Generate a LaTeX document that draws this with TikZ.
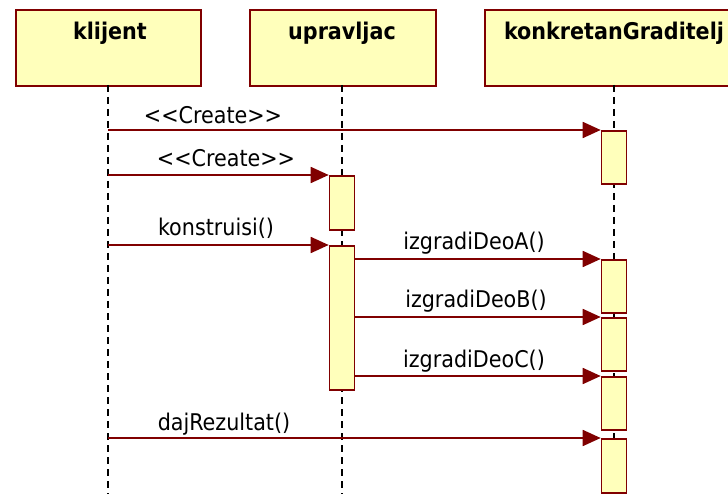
\documentclass[tikz,border=0pt]{standalone}
\usepackage{fontspec}
\setmainfont{DejaVu Sans Condensed}
\usetikzlibrary{arrows.meta}
\definecolor{maroon}{RGB}{128,0,0}
\definecolor{paleyellow}{RGB}{255,255,187}
\tikzset{
  headbox/.style={draw=maroon, fill=paleyellow, line width=1.6pt, rectangle, minimum height=76pt, inner sep=0pt, anchor=north west},
  headtext/.style={font=\fontsize{23}{27}\selectfont\bfseries, anchor=base},
  lifeline/.style={draw=black, line width=1.5pt, dash pattern=on 7pt off 5pt},
  actbox/.style={draw=maroon, fill=paleyellow, line width=1.6pt, rectangle, minimum width=25pt, inner sep=0pt, anchor=north},
  msg/.style={draw=maroon, line width=1.8pt, -{Triangle[length=18pt,width=16pt]}},
  msgtext/.style={font=\fontsize{23}{27}\selectfont, anchor=base}
}
\begin{document}
\begin{tikzpicture}[x=1pt,y=-1pt]
\useasboundingbox (0,0) rectangle (728,494);
\clip (0,0) rectangle (728,494);
% headers
\node[headbox, minimum width=185pt] (hk) at (15,9) {};
\node[headbox, minimum width=186pt] (hu) at (249,9) {};
\node[headbox, minimum width=270pt] (hg) at (484,9) {};
\node[headtext] (tk) at (110,40) {klijent};
\node[headtext] (tu) at (342,40) {upravljac};
\node[headtext] (tg) at (614,40) {konkretanGraditelj};
% lifeline ends
\coordinate (ek) at (108,494);
\coordinate (eu) at (342,494);
\coordinate (eg) at (614,494);
\draw[lifeline] (108,85) -- (ek);
\draw[lifeline] (342,85) -- (eu);
\draw[lifeline] (614,85) -- (eg);
% activations
\node[actbox, minimum height=53pt] (g1) at (614,130) {};
\node[actbox, minimum height=54pt] (u1) at (342,175) {};
\node[actbox, minimum height=144pt] (u2) at (342,245) {};
\node[actbox, minimum height=53pt] (g2) at (614,259) {};
\node[actbox, minimum height=53pt] (g3) at (614,317) {};
\node[actbox, minimum height=53pt] (g4) at (614,376) {};
\node[actbox, minimum height=54pt] (g5) at (614,438) {};
% message sources
\coordinate (s1) at (108,130);
\coordinate (s2) at (108,175);
\coordinate (s3) at (108,245);
\coordinate (s7) at (108,438);
% messages
\draw[msg] (s1) -- (g1.north west);
\draw[msg] (s2) -- (u1.north west);
\draw[msg] (s3) -- (u2.north west);
\draw[msg] (u2.east |- g2.north) -- (g2.north west);
\draw[msg] (u2.east |- g3.north) -- (g3.north west);
\draw[msg] (u2.east |- g4.north) -- (g4.north west);
\draw[msg] (s7) -- (g5.north west);
% labels
\node[msgtext] (l1) at (213,124) {<{}<Create>{}>};
\node[msgtext] (l2) at (226,167) {<{}<Create>{}>};
\node[msgtext] (l3) at (216,236) {konstruisi()};
\node[msgtext] (l4) at (474,250) {izgradiDeoA()};
\node[msgtext] (l5) at (476,308) {izgradiDeoB()};
\node[msgtext] (l6) at (474,367) {izgradiDeoC()};
\node[msgtext] (l7) at (224,430) {dajRezultat()};
\end{tikzpicture}
\end{document}
